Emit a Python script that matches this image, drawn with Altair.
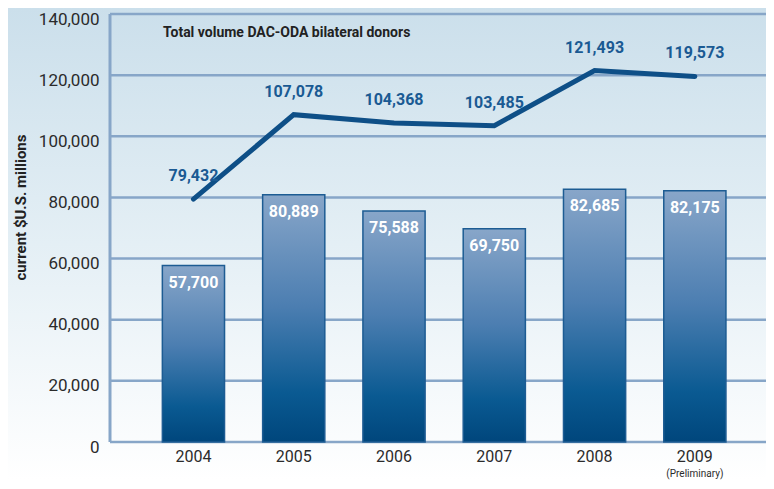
import altair as alt
import pandas as pd

years = ["2004", "2005", "2006", "2007", "2008", "2009"]
bar_values = [57700, 80889, 75588, 69750, 82685, 82175]
line_values = [79432, 107078, 104368, 103485, 121493, 119573]
y_ticks = [0, 20000, 40000, 60000, 80000, 100000, 120000, 140000]
title_text = "Total volume DAC-ODA bilateral donors"
y_title = "current $U.S. millions"
note_text = "(Preliminary)"

W, H = 656, 428
FONT = "Roboto, sans-serif"
GRID = "#87a6c8"
DARK = "#0e4f87"

df = pd.DataFrame({"year": years, "bar": bar_values, "line": line_values})
grid_df = pd.DataFrame({"v": y_ticks})

x_scale = alt.Scale(domain=years, range=[33.3, 635], paddingInner=0.38, paddingOuter=0.19)
y_scale = alt.Scale(domain=[0, 140000], nice=False)

x_axis = alt.Axis(title=None, labelAngle=0, labelFont=FONT, labelFontSize=16,
                  labelColor="#2b2b2b", labelPadding=6, ticks=False,
                  domain=False, grid=False, zindex=1)
y_axis = alt.Axis(title=y_title, values=y_ticks, labelExpr="format(datum.value, ',')",
                  labelFont=FONT, labelFontSize=17, labelColor="#2b2b2b", labelPadding=11,
                  labelOffset=5, labelOverlap=False, labelFlush=False,
                  ticks=False, domain=False, grid=False, zindex=1,
                  titleFont=FONT, titleFontSize=15, titleFontWeight="bold",
                  titleColor="#222222", titleX=-90, titleY=193,
                  titleAngle=-90, titleAlign="center", titleBaseline="middle")


def X():
    return alt.X("year:N", scale=x_scale, sort=years, axis=x_axis)


def Y(field):
    return alt.Y(field, scale=y_scale, axis=y_axis)


bg = alt.Chart(alt.Data(values=[{"a": 1}])).mark_rect(
    fill=alt.LinearGradient(gradient="linear", x1=0, x2=0, y1=0, y2=1,
                            stops=[alt.GradientStop(color="#cbdfeb", offset=0),
                                   alt.GradientStop(color="#e4eff5", offset=0.5),
                                   alt.GradientStop(color="#ffffff", offset=1)])
).encode(x=alt.value(-102), x2=alt.value(W), y=alt.value(-6), y2=alt.value(H + 38))

grid = alt.Chart(grid_df).mark_rule(color=GRID, strokeWidth=2.5).encode(
    y=Y("v:Q"), x=alt.value(0), x2=alt.value(W))

left = alt.Chart(alt.Data(values=[{"a": 1}])).mark_rule(color=GRID, strokeWidth=3).encode(
    x=alt.value(0), y=alt.value(0), y2=alt.value(H))

bars = alt.Chart(df).mark_bar(
    stroke="#1d5c93", strokeWidth=1.5,
    fill=alt.LinearGradient(gradient="linear", x1=0, x2=0, y1=0, y2=1,
                            stops=[alt.GradientStop(color="#88a6c9", offset=0),
                                   alt.GradientStop(color="#4c7eb1", offset=0.45),
                                   alt.GradientStop(color="#0a5a92", offset=0.8),
                                   alt.GradientStop(color="#00467c", offset=1)])
).encode(x=X(), y=Y("bar:Q"))

bar_labels = alt.Chart(df).mark_text(
    font=FONT, fontSize=16, fontWeight="bold", color="white", baseline="middle", dy=17
).encode(x=X(), y=Y("bar:Q"), text=alt.Text("bar:Q", format=","))

line = alt.Chart(df).mark_line(color=DARK, strokeWidth=5, strokeCap="round").encode(
    x=X(), y=Y("line:Q"))

line_labels = alt.Chart(df).mark_text(
    font=FONT, fontSize=16, fontWeight="bold", color="#1a5a93", baseline="middle", dy=-23
).encode(x=X(), y=Y("line:Q"), text=alt.Text("line:Q", format=","))

title = alt.Chart(alt.Data(values=[{"t": title_text}])).mark_text(
    font=FONT, fontSize=14, fontWeight="bold", color="#222222", align="left",
    baseline="middle"
).encode(x=alt.value(53), y=alt.value(19), text="t:N")

note = alt.Chart(pd.DataFrame({"year": ["2009"], "t": [note_text]})).mark_text(
    font=FONT, fontSize=10, color="#2b2b2b", baseline="middle"
).encode(x=X(), y=alt.value(H + 32), text="t:N")

chart = alt.layer(bg, grid, left, bars, bar_labels, line, line_labels, title, note).properties(
    width=W, height=H,
    autosize=alt.AutoSizeParams(type="none"),
    padding={"left": 102, "top": 6, "right": 0, "bottom": 38},
).configure_view(stroke=None).configure(background="#ffffff")

chart.save("out.html", embed_options={"renderer": "svg", "actions": False})
